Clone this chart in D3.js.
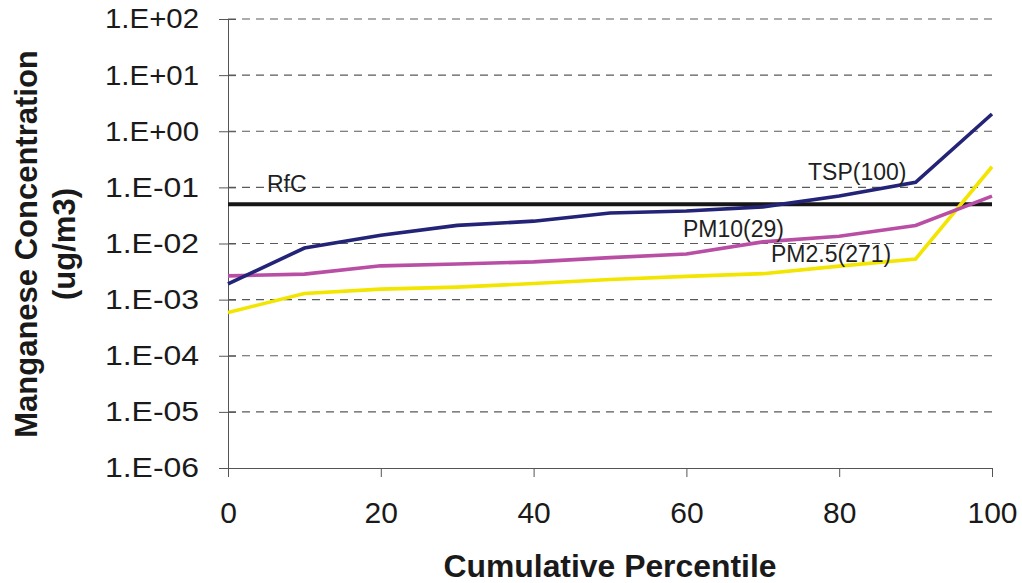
<!DOCTYPE html>
<html>
<head>
<meta charset="utf-8">
<script src="https://cdn.jsdelivr.net/npm/d3@7"></script>
<style>
  html, body { margin: 0; padding: 0; background: #fff; }
  svg { display: block; font-family: "Liberation Sans", Arial, sans-serif; }
</style>
</head>
<body>
<svg id="chart" width="1022" height="583"></svg>
<script>
// ---- data ----
const percentiles = [0, 10, 20, 30, 40, 50, 60, 70, 80, 90, 100];
const tsp   = [1.9e-3, 8.3e-3, 1.4e-2, 2.1e-2, 2.5e-2, 3.5e-2, 3.8e-2, 4.5e-2, 7.0e-2, 0.123, 2.03];
const pm10  = [2.65e-3, 2.85e-3, 4.0e-3, 4.3e-3, 4.7e-3, 5.6e-3, 6.5e-3, 1.07e-2, 1.35e-2, 2.1e-2, 0.07];
const pm25  = [5.9e-4, 1.29e-3, 1.54e-3, 1.67e-3, 1.94e-3, 2.28e-3, 2.6e-3, 2.9e-3, 3.95e-3, 5.3e-3, 0.233];
const rfc   = 0.05;
const yTickValues = [1e2, 1e1, 1e0, 1e-1, 1e-2, 1e-3, 1e-4, 1e-5, 1e-6];
const yTickLabels = ["1.E+02", "1.E+01", "1.E+00", "1.E-01", "1.E-02", "1.E-03", "1.E-04", "1.E-05", "1.E-06"];
const xTickValues = [0, 20, 40, 60, 80, 100];
const seriesNames = ["TSP(100)", "PM10(29)", "PM2.5(271)"];

(function () {
// ---- layout ----
const svg = d3.select("#chart");
const mLeft = 228, mRight = 992, mTop = 19, mBottom = 468;

const x = d3.scaleLinear().domain([0, 100]).range([mLeft, mRight]);
const y = d3.scaleLog().domain([1e-6, 1e2]).range([mBottom, mTop]);

// gridlines
svg.append("g")
  .selectAll("line")
  .data(yTickValues.filter(v => v > 1e-6))
  .join("line")
  .attr("x1", mLeft).attr("x2", mRight)
  .attr("y1", d => y(d)).attr("y2", d => y(d))
  .attr("stroke", "#5a5a5a")
  .attr("stroke-width", 1.1)
  .attr("stroke-dasharray", "8,6");

// y axis
const yAxis = svg.append("g")
  .attr("transform", `translate(${mLeft},0)`)
  .call(d3.axisLeft(y)
    .tickValues(yTickValues)
    .tickFormat((d, i) => yTickLabels[i])
    .tickSize(9).tickSizeOuter(0).tickPadding(20));
yAxis.selectAll(".tick line").attr("x1", 8).attr("stroke", "#555");
yAxis.select(".domain").attr("stroke", "#555");
yAxis.selectAll(".tick text")
  .attr("font-size", 28).attr("fill", "#1a1a1a")
  .attr("font-family", "Liberation Sans, Arial, sans-serif")
  .attr("textLength", 94).attr("lengthAdjust", "spacingAndGlyphs");

// x axis
const xAxis = svg.append("g")
  .attr("transform", `translate(0,${mBottom})`)
  .call(d3.axisBottom(x)
    .tickValues(xTickValues)
    .tickFormat(d3.format("d"))
    .tickSize(9).tickSizeOuter(0).tickPadding(25));
xAxis.selectAll(".tick line").attr("stroke", "#555");
xAxis.select(".domain").attr("stroke", "#555");
xAxis.selectAll(".tick text")
  .attr("font-size", 30).attr("fill", "#1a1a1a")
  .attr("font-family", "Liberation Sans, Arial, sans-serif");

// RfC line
svg.append("line")
  .attr("x1", x(0)).attr("x2", x(100))
  .attr("y1", y(rfc)).attr("y2", y(rfc))
  .attr("stroke", "#161616").attr("stroke-width", 4);

// series lines
const line = d3.line()
  .x((d, i) => x(percentiles[i]))
  .y(d => y(d));

const seriesData = [
  { values: pm25, color: "#f2e500" },
  { values: pm10, color: "#b94fa4" },
  { values: tsp,  color: "#232377" }
];
svg.append("g").selectAll("path")
  .data(seriesData)
  .join("path")
  .attr("d", d => line(d.values))
  .attr("fill", "none")
  .attr("stroke", d => d.color)
  .attr("stroke-width", 3.6)
  .attr("stroke-linejoin", "miter");

// labels
const labels = [
  { text: "RfC", x: 267, y: 192 },
  { text: seriesNames[0], x: 808, y: 180 },
  { text: seriesNames[1], x: 683, y: 237 },
  { text: seriesNames[2], x: 771, y: 262 }
];
svg.append("g").selectAll("text")
  .data(labels)
  .join("text")
  .attr("x", d => d.x).attr("y", d => d.y)
  .attr("font-size", 23)
  .attr("fill", "#1f1f1f")
  .text(d => d.text);

// axis titles
svg.append("text")
  .attr("x", (mLeft + mRight) / 2).attr("y", 577)
  .attr("text-anchor", "middle")
  .attr("font-size", 31).attr("font-weight", "bold").attr("fill", "#1a1a1a")
  .attr("textLength", 333).attr("lengthAdjust", "spacingAndGlyphs")
  .text("Cumulative Percentile");

const yt = svg.append("text")
  .attr("transform", "translate(0,244) rotate(-90)")
  .attr("text-anchor", "middle")
  .attr("font-size", 31).attr("font-weight", "bold").attr("fill", "#1a1a1a");
yt.append("tspan").attr("x", 0).attr("y", 37).text("Manganese Concentration");
yt.append("tspan").attr("x", 0).attr("y", 75).text("(ug/m3)");
})();
</script>
</body>
</html>
